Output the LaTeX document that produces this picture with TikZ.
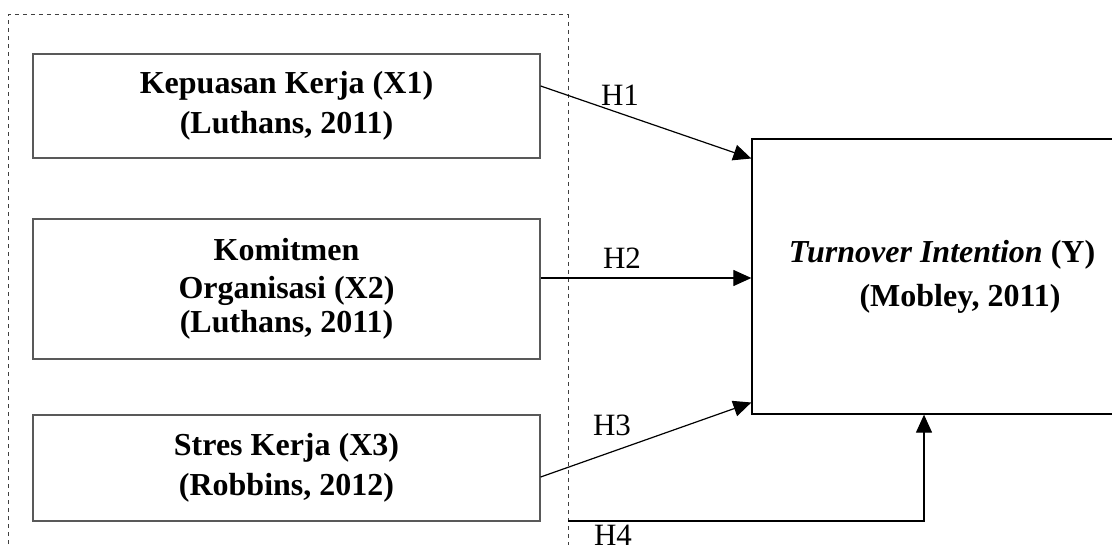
\documentclass[tikz,border=0pt]{standalone}
\usepackage{fontspec}
\setmainfont{Liberation Serif}
\usetikzlibrary{arrows.meta}

\begin{document}
\begin{tikzpicture}[
		x=0.5pt, y=-0.5pt,
		v/.style = {rectangle, draw=black!65, line width=0.65pt, inner sep=0pt, align=center,
			font=\fontsize{16}{17}\selectfont\bfseries, minimum width=253.5pt},
		t/.style = {rectangle, draw=black, line width=0.65pt, inner sep=0pt, align=center,
			font=\fontsize{16}{22}\selectfont\bfseries, minimum width=190pt, minimum height=137.5pt},
		h/.style = {inner sep=0pt, font=\fontsize{15.5}{17}\selectfont},
		r/.style = {-{Triangle[length=9pt,width=8pt]}, line width=0.6pt}
		]
		
		\clip (0, 0) rectangle (1112, 545);
		
		% group frame
		\draw[dashed, dash pattern=on 2pt off 2pt, black!75, line width=0.5pt]
			(8, 600) |- (568, 15) -- (568, 600);
		\coordinate (h4s) at (568, 521);
		
		\node[v, minimum height=52pt]	(b1)	at	(286.5, 106)	{Kepuasan Kerja (X1)\\[3pt](Luthans, 2011)};
		\node[v, minimum height=70pt]	(b2)	at	(286.5, 289)	{Komitmen\\[2pt]Organisasi (X2)\\(Luthans, 2011)};
		\node[v, minimum height=53pt]	(b3)	at	(286.5, 468)	{Stres Kerja (X3)\\[3pt](Robbins, 2012)};
		
		\node[t]	(y)	at	(942, 276.5)	{\textit{Turnover Intention} (Y)\\\hspace*{18pt}(Mobley, 2011)};
		
		\draw[r]	([yshift=10pt]b1.east)	to	([yshift=59pt]y.west);
		\draw[r]	([yshift=5.5pt]b2.east)	to	([yshift=5.5pt]b2.east -| y.west);
		\draw[r]	([yshift=-4.5pt]b3.east)	to	([yshift=-63pt]y.west);
		\draw[r]	(h4s)	-|	([xshift=-9pt]y.south);
		
		\node[h]	(l1)	at	(620, 95)	{H1};
		\node[h]	(l2)	at	(622, 258)	{H2};
		\node[h]	(l3)	at	(612, 425)	{H3};
		\node[h]	(l4)	at	(613, 535)	{H4};
\end{tikzpicture}
\end{document}
